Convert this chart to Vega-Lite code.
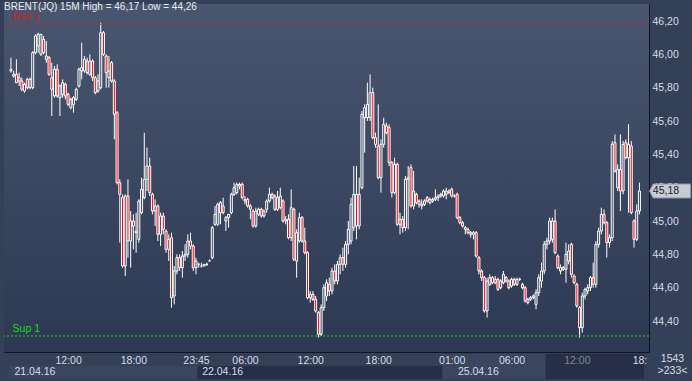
{
"$schema": "https://vega.github.io/schema/vega-lite/v6.json",
"width": 645, "height": 348,
"autosize": {"type": "none"},
"padding": {"left": 4, "top": 4, "right": 43, "bottom": 29},
"background": "#343f58",
"config": {"view": {"stroke": null}, "font": "Liberation Sans, Arial, sans-serif"},
"datasets": {
"candles": [
{"i":0,"o":45.90,"h":45.98,"l":45.89,"c":45.91},
{"i":1,"o":45.87,"h":45.90,"l":45.86,"c":45.88},
{"i":2,"o":45.88,"h":45.97,"l":45.83,"c":45.83},
{"i":3,"o":45.84,"h":45.89,"l":45.81,"c":45.86},
{"i":4,"o":45.84,"h":45.86,"l":45.78,"c":45.79},
{"i":5,"o":45.78,"h":45.83,"l":45.77,"c":45.82},
{"i":6,"o":45.85,"h":45.86,"l":45.79,"c":45.80},
{"i":7,"o":45.80,"h":45.86,"l":45.79,"c":45.85},
{"i":8,"o":45.80,"h":46.02,"l":45.79,"c":46.01},
{"i":9,"o":46.01,"h":46.12,"l":46.00,"c":46.11},
{"i":10,"o":46.05,"h":46.13,"l":46.01,"c":46.12},
{"i":11,"o":46.00,"h":46.12,"l":45.99,"c":46.12},
{"i":12,"o":46.09,"h":46.11,"l":46.00,"c":46.01},
{"i":13,"o":45.97,"h":46.08,"l":45.95,"c":45.99},
{"i":14,"o":45.98,"h":45.99,"l":45.87,"c":45.88},
{"i":15,"o":45.86,"h":45.95,"l":45.63,"c":45.79},
{"i":16,"o":45.75,"h":45.93,"l":45.74,"c":45.91},
{"i":17,"o":45.91,"h":45.94,"l":45.74,"c":45.75},
{"i":18,"o":45.74,"h":45.82,"l":45.63,"c":45.81},
{"i":19,"o":45.76,"h":45.85,"l":45.74,"c":45.83},
{"i":20,"o":45.82,"h":45.83,"l":45.73,"c":45.75},
{"i":21,"o":45.76,"h":45.77,"l":45.69,"c":45.70},
{"i":22,"o":45.68,"h":45.74,"l":45.67,"c":45.73},
{"i":23,"o":45.70,"h":45.75,"l":45.65,"c":45.74},
{"i":24,"o":45.73,"h":45.80,"l":45.72,"c":45.79},
{"i":25,"o":45.81,"h":45.92,"l":45.80,"c":45.91},
{"i":26,"o":45.90,"h":46.07,"l":45.85,"c":45.92},
{"i":27,"o":45.90,"h":45.99,"l":45.89,"c":45.97},
{"i":28,"o":45.96,"h":45.98,"l":45.88,"c":45.89},
{"i":29,"o":45.88,"h":46.00,"l":45.87,"c":45.96},
{"i":30,"o":45.96,"h":45.97,"l":45.84,"c":45.86},
{"i":31,"o":45.86,"h":45.87,"l":45.76,"c":45.77},
{"i":32,"o":45.78,"h":45.88,"l":45.77,"c":45.84},
{"i":33,"o":45.80,"h":46.19,"l":45.79,"c":46.13},
{"i":34,"o":46.13,"h":46.14,"l":45.99,"c":46.00},
{"i":35,"o":45.99,"h":46.00,"l":45.80,"c":45.89},
{"i":36,"o":45.86,"h":45.99,"l":45.80,"c":45.90},
{"i":37,"o":45.95,"h":45.96,"l":45.83,"c":45.84},
{"i":38,"o":45.84,"h":45.85,"l":45.49,"c":45.64},
{"i":39,"o":45.65,"h":45.66,"l":45.22,"c":45.23},
{"i":40,"o":45.23,"h":45.25,"l":44.87,"c":45.16},
{"i":41,"o":45.14,"h":45.16,"l":44.72,"c":44.73},
{"i":42,"o":44.73,"h":45.16,"l":44.67,"c":45.15},
{"i":43,"o":45.15,"h":45.25,"l":44.78,"c":44.88},
{"i":44,"o":44.88,"h":45.06,"l":44.72,"c":45.00},
{"i":45,"o":45.00,"h":45.04,"l":44.83,"c":44.97},
{"i":46,"o":44.93,"h":45.05,"l":44.81,"c":44.94},
{"i":47,"o":44.89,"h":45.13,"l":44.87,"c":45.12},
{"i":48,"o":45.05,"h":45.26,"l":45.04,"c":45.19},
{"i":49,"o":45.14,"h":45.53,"l":45.13,"c":45.25},
{"i":50,"o":45.25,"h":45.44,"l":45.18,"c":45.33},
{"i":51,"o":45.33,"h":45.38,"l":45.15,"c":45.17},
{"i":52,"o":45.16,"h":45.17,"l":45.04,"c":45.06},
{"i":53,"o":45.06,"h":45.13,"l":44.97,"c":45.09},
{"i":54,"o":45.09,"h":45.10,"l":44.88,"c":44.92},
{"i":55,"o":44.92,"h":45.05,"l":44.85,"c":45.03},
{"i":56,"o":45.03,"h":45.05,"l":44.92,"c":44.95},
{"i":57,"o":44.94,"h":44.95,"l":44.81,"c":44.83},
{"i":58,"o":44.83,"h":44.92,"l":44.76,"c":44.89},
{"i":59,"o":44.90,"h":44.93,"l":44.48,"c":44.54},
{"i":60,"o":44.55,"h":44.73,"l":44.50,"c":44.70},
{"i":61,"o":44.70,"h":44.80,"l":44.68,"c":44.78},
{"i":62,"o":44.78,"h":44.80,"l":44.70,"c":44.72},
{"i":63,"o":44.72,"h":44.82,"l":44.66,"c":44.79},
{"i":64,"o":44.79,"h":44.86,"l":44.76,"c":44.80},
{"i":65,"o":44.80,"h":44.92,"l":44.78,"c":44.88},
{"i":66,"o":44.88,"h":44.93,"l":44.83,"c":44.85},
{"i":67,"o":44.85,"h":44.86,"l":44.70,"c":44.72},
{"i":68,"o":44.72,"h":44.78,"l":44.68,"c":44.76},
{"i":69,"o":44.74,"h":44.75,"l":44.72,"c":44.74},
{"i":70,"o":44.73,"h":44.75,"l":44.72,"c":44.73},
{"i":71,"o":44.73,"h":44.74,"l":44.73,"c":44.74},
{"i":72,"o":44.74,"h":44.75,"l":44.73,"c":44.74},
{"i":73,"o":44.76,"h":44.77,"l":44.76,"c":44.76},
{"i":74,"o":44.78,"h":44.97,"l":44.77,"c":44.96},
{"i":75,"o":44.98,"h":45.09,"l":44.97,"c":45.04},
{"i":76,"o":44.98,"h":45.11,"l":44.97,"c":45.10},
{"i":77,"o":45.05,"h":45.12,"l":44.98,"c":45.11},
{"i":78,"o":45.09,"h":45.14,"l":45.04,"c":45.05},
{"i":79,"o":45.00,"h":45.03,"l":44.94,"c":45.02},
{"i":80,"o":45.02,"h":45.04,"l":44.96,"c":45.04},
{"i":81,"o":45.05,"h":45.17,"l":45.04,"c":45.16},
{"i":82,"o":45.16,"h":45.23,"l":45.15,"c":45.20},
{"i":83,"o":45.17,"h":45.23,"l":45.16,"c":45.22},
{"i":84,"o":45.21,"h":45.23,"l":45.19,"c":45.22},
{"i":85,"o":45.22,"h":45.23,"l":45.13,"c":45.14},
{"i":86,"o":45.12,"h":45.15,"l":45.10,"c":45.13},
{"i":87,"o":45.13,"h":45.14,"l":45.08,"c":45.09},
{"i":88,"o":45.07,"h":45.10,"l":45.01,"c":45.09},
{"i":89,"o":45.06,"h":45.07,"l":44.96,"c":44.97},
{"i":90,"o":44.97,"h":45.08,"l":44.96,"c":45.06},
{"i":91,"o":45.04,"h":45.08,"l":45.03,"c":45.07},
{"i":92,"o":45.07,"h":45.08,"l":45.02,"c":45.03},
{"i":93,"o":45.03,"h":45.07,"l":45.02,"c":45.06},
{"i":94,"o":45.07,"h":45.13,"l":45.05,"c":45.12},
{"i":95,"o":45.12,"h":45.20,"l":45.11,"c":45.16},
{"i":96,"o":45.16,"h":45.17,"l":45.13,"c":45.14},
{"i":97,"o":45.07,"h":45.16,"l":45.06,"c":45.15},
{"i":98,"o":45.14,"h":45.18,"l":45.06,"c":45.07},
{"i":99,"o":45.08,"h":45.20,"l":45.07,"c":45.15},
{"i":100,"o":45.12,"h":45.13,"l":44.99,"c":45.00},
{"i":101,"o":45.00,"h":45.03,"l":44.98,"c":45.01},
{"i":102,"o":45.01,"h":45.04,"l":44.89,"c":44.90},
{"i":103,"o":44.90,"h":45.19,"l":44.88,"c":45.08},
{"i":104,"o":45.07,"h":45.08,"l":44.76,"c":44.77},
{"i":105,"o":44.76,"h":44.95,"l":44.66,"c":44.93},
{"i":106,"o":44.88,"h":45.05,"l":44.87,"c":45.02},
{"i":107,"o":45.02,"h":45.03,"l":44.87,"c":44.88},
{"i":108,"o":44.88,"h":44.96,"l":44.80,"c":44.81},
{"i":109,"o":44.81,"h":44.82,"l":44.53,"c":44.54},
{"i":110,"o":44.54,"h":44.58,"l":44.51,"c":44.56},
{"i":111,"o":44.56,"h":44.58,"l":44.52,"c":44.53},
{"i":112,"o":44.53,"h":44.55,"l":44.45,"c":44.46},
{"i":113,"o":44.45,"h":44.46,"l":44.30,"c":44.32},
{"i":114,"o":44.32,"h":44.50,"l":44.31,"c":44.48},
{"i":115,"o":44.48,"h":44.62,"l":44.46,"c":44.60},
{"i":116,"o":44.55,"h":44.65,"l":44.52,"c":44.63},
{"i":117,"o":44.62,"h":44.66,"l":44.55,"c":44.58},
{"i":118,"o":44.58,"h":44.72,"l":44.56,"c":44.70},
{"i":119,"o":44.70,"h":44.74,"l":44.62,"c":44.64},
{"i":120,"o":44.64,"h":44.76,"l":44.62,"c":44.74},
{"i":121,"o":44.74,"h":44.80,"l":44.68,"c":44.78},
{"i":122,"o":44.78,"h":44.84,"l":44.70,"c":44.74},
{"i":123,"o":44.74,"h":44.88,"l":44.72,"c":44.86},
{"i":124,"o":44.86,"h":45.00,"l":44.80,"c":44.95},
{"i":125,"o":44.88,"h":45.14,"l":44.86,"c":45.10},
{"i":126,"o":44.96,"h":45.33,"l":44.94,"c":45.16},
{"i":127,"o":45.16,"h":45.33,"l":44.89,"c":44.97},
{"i":128,"o":44.97,"h":45.26,"l":44.95,"c":45.16},
{"i":129,"o":45.20,"h":45.66,"l":45.19,"c":45.64},
{"i":130,"o":45.62,"h":45.70,"l":45.41,"c":45.68},
{"i":131,"o":45.62,"h":45.83,"l":45.60,"c":45.70},
{"i":132,"o":45.62,"h":45.88,"l":45.60,"c":45.77},
{"i":133,"o":45.77,"h":45.80,"l":45.49,"c":45.50},
{"i":134,"o":45.50,"h":45.53,"l":45.44,"c":45.46},
{"i":135,"o":45.45,"h":45.70,"l":45.25,"c":45.26},
{"i":136,"o":45.26,"h":45.49,"l":45.17,"c":45.46},
{"i":137,"o":45.46,"h":45.62,"l":45.44,"c":45.58},
{"i":138,"o":45.57,"h":45.59,"l":45.52,"c":45.53},
{"i":139,"o":45.56,"h":45.58,"l":45.33,"c":45.35},
{"i":140,"o":45.35,"h":45.36,"l":45.14,"c":45.17},
{"i":141,"o":45.17,"h":45.38,"l":45.16,"c":45.34},
{"i":142,"o":45.34,"h":45.35,"l":44.97,"c":44.98},
{"i":143,"o":44.98,"h":45.05,"l":44.92,"c":45.01},
{"i":144,"o":45.01,"h":45.03,"l":44.93,"c":44.96},
{"i":145,"o":44.96,"h":45.27,"l":44.94,"c":45.25},
{"i":146,"o":45.25,"h":45.33,"l":44.95,"c":45.26},
{"i":147,"o":45.32,"h":45.34,"l":45.08,"c":45.09},
{"i":148,"o":45.09,"h":45.30,"l":45.07,"c":45.18},
{"i":149,"o":45.16,"h":45.17,"l":45.10,"c":45.11},
{"i":150,"o":45.12,"h":45.13,"l":45.08,"c":45.10},
{"i":151,"o":45.09,"h":45.13,"l":45.07,"c":45.10},
{"i":152,"o":45.10,"h":45.13,"l":45.09,"c":45.12},
{"i":153,"o":45.14,"h":45.15,"l":45.11,"c":45.12},
{"i":154,"o":45.11,"h":45.14,"l":45.10,"c":45.13},
{"i":155,"o":45.12,"h":45.14,"l":45.11,"c":45.13},
{"i":156,"o":45.13,"h":45.19,"l":45.12,"c":45.14},
{"i":157,"o":45.14,"h":45.16,"l":45.12,"c":45.15},
{"i":158,"o":45.16,"h":45.17,"l":45.14,"c":45.15},
{"i":159,"o":45.15,"h":45.19,"l":45.14,"c":45.18},
{"i":160,"o":45.16,"h":45.20,"l":45.13,"c":45.18},
{"i":161,"o":45.17,"h":45.19,"l":45.16,"c":45.18},
{"i":162,"o":45.19,"h":45.20,"l":45.14,"c":45.15},
{"i":163,"o":45.15,"h":45.16,"l":45.14,"c":45.15},
{"i":164,"o":45.16,"h":45.17,"l":45.01,"c":45.02},
{"i":165,"o":45.02,"h":45.03,"l":44.98,"c":44.99},
{"i":166,"o":44.99,"h":45.00,"l":44.96,"c":44.97},
{"i":167,"o":44.95,"h":44.97,"l":44.92,"c":44.96},
{"i":168,"o":44.95,"h":44.96,"l":44.92,"c":44.93},
{"i":169,"o":44.92,"h":44.94,"l":44.90,"c":44.93},
{"i":170,"o":44.92,"h":44.94,"l":44.89,"c":44.93},
{"i":171,"o":44.93,"h":44.94,"l":44.78,"c":44.79},
{"i":172,"o":44.78,"h":44.79,"l":44.68,"c":44.70},
{"i":173,"o":44.70,"h":44.71,"l":44.64,"c":44.66},
{"i":174,"o":44.66,"h":44.67,"l":44.45,"c":44.46},
{"i":175,"o":44.46,"h":44.66,"l":44.42,"c":44.64},
{"i":176,"o":44.62,"h":44.68,"l":44.61,"c":44.66},
{"i":177,"o":44.66,"h":44.67,"l":44.62,"c":44.63},
{"i":178,"o":44.63,"h":44.67,"l":44.62,"c":44.65},
{"i":179,"o":44.65,"h":44.66,"l":44.58,"c":44.59},
{"i":180,"o":44.60,"h":44.65,"l":44.59,"c":44.64},
{"i":181,"o":44.63,"h":44.70,"l":44.62,"c":44.68},
{"i":182,"o":44.66,"h":44.67,"l":44.63,"c":44.64},
{"i":183,"o":44.64,"h":44.65,"l":44.59,"c":44.60},
{"i":184,"o":44.61,"h":44.66,"l":44.60,"c":44.65},
{"i":185,"o":44.65,"h":44.66,"l":44.61,"c":44.62},
{"i":186,"o":44.62,"h":44.66,"l":44.61,"c":44.65},
{"i":187,"o":44.65,"h":44.66,"l":44.64,"c":44.65},
{"i":188,"o":44.62,"h":44.63,"l":44.59,"c":44.60},
{"i":189,"o":44.60,"h":44.61,"l":44.51,"c":44.52},
{"i":190,"o":44.51,"h":44.54,"l":44.50,"c":44.53},
{"i":191,"o":44.53,"h":44.55,"l":44.52,"c":44.54},
{"i":192,"o":44.54,"h":44.56,"l":44.53,"c":44.55},
{"i":193,"o":44.50,"h":44.59,"l":44.47,"c":44.57},
{"i":194,"o":44.57,"h":44.68,"l":44.55,"c":44.66},
{"i":195,"o":44.64,"h":44.75,"l":44.60,"c":44.70},
{"i":196,"o":44.70,"h":44.88,"l":44.68,"c":44.86},
{"i":197,"o":44.86,"h":44.90,"l":44.83,"c":44.88},
{"i":198,"o":44.88,"h":45.02,"l":44.86,"c":45.00},
{"i":199,"o":44.89,"h":45.02,"l":44.87,"c":45.00},
{"i":200,"o":45.00,"h":45.07,"l":44.80,"c":44.81},
{"i":201,"o":44.79,"h":44.80,"l":44.71,"c":44.72},
{"i":202,"o":44.70,"h":44.74,"l":44.68,"c":44.72},
{"i":203,"o":44.72,"h":44.73,"l":44.70,"c":44.71},
{"i":204,"o":44.71,"h":44.87,"l":44.63,"c":44.80},
{"i":205,"o":44.76,"h":44.86,"l":44.74,"c":44.82},
{"i":206,"o":44.86,"h":44.87,"l":44.66,"c":44.68},
{"i":207,"o":44.67,"h":44.68,"l":44.62,"c":44.63},
{"i":208,"o":44.62,"h":44.63,"l":44.48,"c":44.49},
{"i":209,"o":44.48,"h":44.49,"l":44.30,"c":44.36},
{"i":210,"o":44.36,"h":44.57,"l":44.33,"c":44.55},
{"i":211,"o":44.55,"h":44.60,"l":44.53,"c":44.59},
{"i":212,"o":44.58,"h":44.62,"l":44.56,"c":44.60},
{"i":213,"o":44.60,"h":44.67,"l":44.58,"c":44.66},
{"i":214,"o":44.66,"h":44.75,"l":44.60,"c":44.62},
{"i":215,"o":44.62,"h":44.88,"l":44.60,"c":44.86},
{"i":216,"o":44.86,"h":44.96,"l":44.84,"c":44.94},
{"i":217,"o":44.94,"h":45.08,"l":44.92,"c":45.04},
{"i":218,"o":45.04,"h":45.07,"l":44.98,"c":44.99},
{"i":219,"o":44.99,"h":45.00,"l":44.78,"c":44.87},
{"i":220,"o":44.87,"h":44.92,"l":44.84,"c":44.90},
{"i":221,"o":44.90,"h":45.48,"l":44.88,"c":45.46},
{"i":222,"o":45.47,"h":45.52,"l":45.29,"c":45.30},
{"i":223,"o":45.20,"h":45.34,"l":45.18,"c":45.31},
{"i":224,"o":45.31,"h":45.52,"l":45.06,"c":45.18},
{"i":225,"o":45.18,"h":45.48,"l":45.16,"c":45.46},
{"i":226,"o":45.47,"h":45.49,"l":45.37,"c":45.38},
{"i":227,"o":45.38,"h":45.58,"l":45.05,"c":45.46},
{"i":228,"o":45.45,"h":45.48,"l":45.04,"c":45.05},
{"i":229,"o":45.00,"h":45.01,"l":44.84,"c":44.89},
{"i":230,"o":44.89,"h":45.10,"l":44.88,"c":45.06},
{"i":231,"o":45.06,"h":45.23,"l":45.04,"c":45.18}
],
"levels": [{"name": "Res 1", "price": 46.18}, {"name": "Sup 1", "price": 44.31}],
"last": [{"price": 45.18, "label": "45,18"}],
"dateRow": [{"from": -0.72, "to": 68.5, "seg": "21.04.16"}, {"from": 68.5, "to": 158.5, "seg": "22.04.16"}],
"scroll": [{"from": 158.5, "to": 196.5, "seg": "25.04.16"}, {"from": 196.5, "to": 232.68, "seg": "view"}],
"header": [{"t": "BRENT(JQ) 15M  High = 46,17  Low = 44,26"}]
},
"layer": [
{"data": {"values": [{}]}, "mark": {"type": "rect", "fill": {"gradient": "linear", "x1": 0, "y1": 0, "x2": 0, "y2": 1, "stops": [{"offset": 0, "color": "#4a566f"}, {"offset": 1, "color": "#2d3853"}]}}, "encoding": {}},
{"data": {"name": "scroll"}, "mark": {"type": "rect"},
 "encoding": {
  "x": {"field": "from", "type": "quantitative", "axis": null},
  "x2": {"field": "to"},
  "y": {"value": 350}, "y2": {"value": 375},
  "fill": {"field": "seg", "type": "nominal", "scale": {"domain": ["25.04.16", "view"], "range": ["#3a4560", "#262f47"]}, "legend": null}
 }},
{"data": {"name": "dateRow"}, "mark": {"type": "rect"},
 "encoding": {
  "x": {"field": "from", "type": "quantitative",
   "axis": {"orient": "bottom", "title": null, "values": [0, 69, 163], "zindex": 1,
    "labelExpr": "datum.value == 0 ? '21.04.16' : datum.value == 69 ? '22.04.16' : '25.04.16'",
    "grid": false, "ticks": false, "tickSize": 0, "domain": false, "labelAlign": "left", "labelOffset": 3,
    "labelPadding": 14, "labelFontSize": 10.5, "labelColor": "#d8dde6", "labelFlush": false, "labelOverlap": false}},
  "x2": {"field": "to"},
  "y": {"value": 362}, "y2": {"value": 375},
  "fill": {"field": "seg", "type": "nominal", "scale": {"domain": ["21.04.16", "22.04.16"], "range": ["#3b4560", "#4d586f"]}, "legend": null}
 }},
{"data": {"name": "candles"}, "mark": {"type": "rule", "color": "#ffffff", "strokeWidth": 1},
 "encoding": {
  "x": {"field": "i", "type": "quantitative", "scale": {"domain": [-0.72, 232.68], "nice": false, "zero": false},
   "axis": {"orient": "bottom", "title": null, "values": [21,45,68,86,110,135,162,184,208,231], "labels": false,
    "grid": true, "gridColor": "#1c3766", "gridDash": [3, 3], "gridWidth": 1, "ticks": false, "tickSize": 0,
    "domain": true, "domainColor": "#10151f", "domainWidth": 1}},
  "y": {"field": "l", "type": "quantitative", "scale": {"domain": [44.214, 46.302], "nice": false, "zero": false},
   "axis": {"orient": "right", "values": [44.4,44.6,44.8,45.0,45.2,45.4,45.6,45.8,46.0,46.2],
    "labelExpr": "replace(format(datum.value, '.2f'), '.', ',')",
    "grid": true, "gridColor": "#1c3766", "gridDash": [3, 3], "gridWidth": 1, "ticks": false, "tickSize": 0,
    "domain": true, "domainColor": "#10151f", "domainWidth": 1,
    "labelPadding": 3, "labelFontSize": 10.5, "labelColor": "#d8dde6",
    "title": ["1543", ">233<"], "titleAngle": 0, "titleX": 23, "titleY": 349, "titleAlign": "center", "titleBaseline": "top",
    "titleFontSize": 10.5, "titleFontWeight": "normal", "titleColor": "#d8dde6", "titleLineHeight": 12}},
  "y2": {"field": "h"}
 }},
{"data": {"name": "candles"}, "mark": {"type": "bar", "size": 2, "stroke": "#ffffff", "strokeWidth": 1},
 "encoding": {
  "x": {"field": "i", "type": "quantitative",
   "axis": {"orient": "bottom", "title": null, "values": [21,45,68,86,110,135,162,184,208,231], "zindex": 1,
    "labelExpr": "datum.value == 21 ? '12:00' : datum.value == 45 ? '18:00' : datum.value == 68 ? '23:45' : datum.value == 86 ? '06:00' : datum.value == 110 ? '12:00' : datum.value == 135 ? '18:00' : datum.value == 162 ? '01:00' : datum.value == 184 ? '06:00' : datum.value == 208 ? '12:00' : '18:'",
    "grid": false, "ticks": false, "tickSize": 0, "domain": false,
    "labelPadding": 3, "labelFontSize": 10.5, "labelFlush": false, "labelOverlap": false,
    "labelColor": {"condition": {"test": "datum.value == 208", "value": "#7e879a"}, "value": "#d8dde6"}}},
  "y": {"field": "o", "type": "quantitative", "axis": null},
  "y2": {"field": "c"},
  "fill": {"condition": {"test": "datum.c < datum.o", "value": "#ff0000"}, "value": "#3a4560"}
 }},
{"data": {"name": "levels"}, "mark": {"type": "rule", "strokeWidth": 1, "strokeDash": [2, 2]},
 "encoding": {
  "y": {"field": "price", "type": "quantitative", "axis": null},
  "color": {"field": "name", "type": "nominal", "scale": {"domain": ["Res 1", "Sup 1"], "range": ["#d41c1c", "#22d822"]}, "legend": null}
 }},
{"data": {"name": "levels"}, "mark": {"type": "text", "align": "left", "baseline": "alphabetic", "dy": -4, "fontSize": 10.5},
 "encoding": {
  "x": {"datum": 0.6, "type": "quantitative", "axis": null},
  "y": {"field": "price", "type": "quantitative", "axis": null},
  "text": {"field": "name"},
  "color": {"field": "name", "type": "nominal", "legend": null}
 }},
{"data": {"name": "header"}, "mark": {"type": "text", "align": "left", "baseline": "middle", "fontSize": 10, "color": "#e8ecf2"},
 "encoding": {
  "x": {"value": 0},
  "y": {"value": 3},
  "text": {"field": "t"}
 }},
{"data": {"name": "last"}, "mark": {"type": "point", "shape": "M-1,0L-0.82,-0.34L1,-0.34L1,0.34L-0.82,0.34Z", "size": 1681, "filled": true, "fill": "#c6cbd4", "stroke": "#8e96a6", "strokeWidth": 1, "opacity": 1},
 "encoding": {
  "x": {"value": 666},
  "y": {"field": "price", "type": "quantitative", "axis": null}
 }},
{"data": {"name": "last"}, "mark": {"type": "text", "align": "center", "baseline": "middle", "fontSize": 10.5, "color": "#18202e"},
 "encoding": {
  "x": {"value": 662},
  "y": {"field": "price", "type": "quantitative", "axis": null},
  "text": {"field": "label"}
 }}
],
"resolve": {"axis": {"x": "independent", "y": "independent"}}
}
